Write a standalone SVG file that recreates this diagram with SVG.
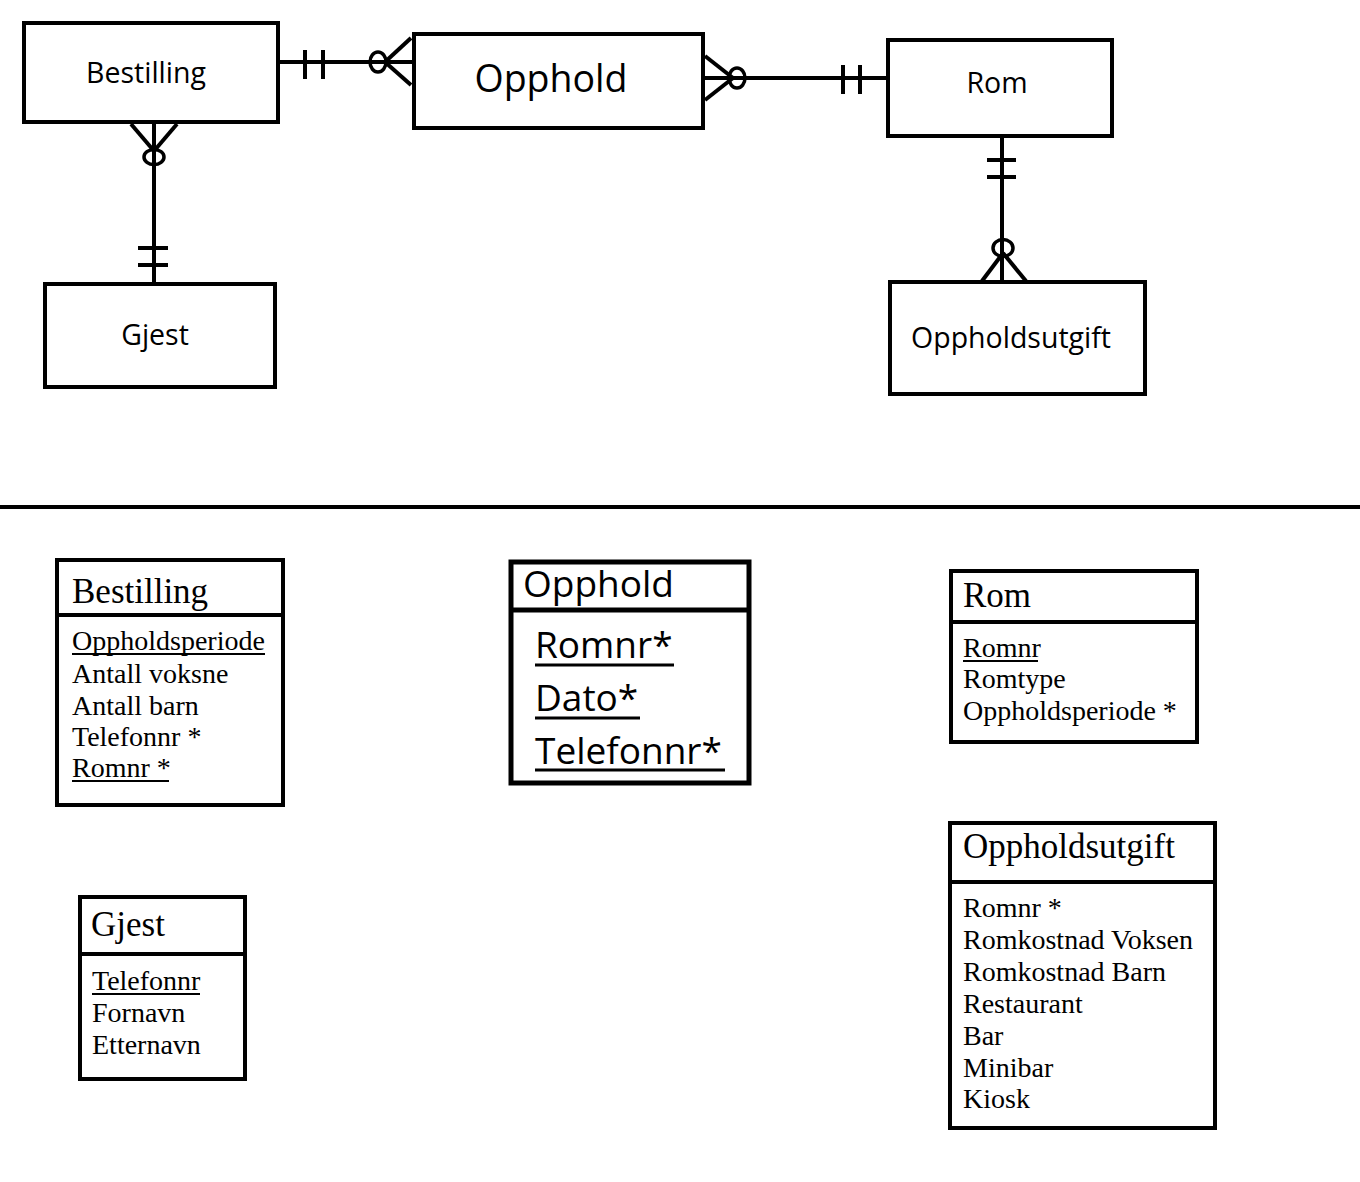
<svg xmlns="http://www.w3.org/2000/svg" width="1360" height="1182" viewBox="0 0 1360 1182">
<style>
.box{fill:#fff;stroke:#000;stroke-width:4}
.ln{stroke:#000;stroke-width:4;fill:none}
.ci{stroke:#000;stroke-width:3.5;fill:none}
.sans{font-family:"Open Sans","Noto Sans","DejaVu Sans",sans-serif;fill:#000}
.t1{font-size:28.5px;text-anchor:middle}
.t2{font-size:37.5px;text-anchor:middle}
.serif{font-family:"Liberation Serif","Times New Roman",serif;fill:#000}
.th{font-size:35px}
.at{font-size:28px}
.op{font-size:37px}
.ul{stroke:#000;stroke-width:2}
.ul3{stroke:#000;stroke-width:3}
</style>
<rect width="1360" height="1182" fill="#fff"/>

<g id="connectors">
  <!-- Bestilling - Opphold -->
  <line class="ln" x1="278" y1="62" x2="412" y2="62"/>
  <line class="ln" x1="305" y1="50" x2="305" y2="79"/>
  <line class="ln" x1="323" y1="50" x2="323" y2="79"/>
  <ellipse class="ci" cx="378" cy="62" rx="8" ry="10"/>
  <line class="ln" x1="385" y1="62" x2="411" y2="38"/>
  <line class="ln" x1="385" y1="62" x2="411" y2="85"/>
  <!-- Opphold - Rom -->
  <line class="ln" x1="703" y1="78" x2="888" y2="78"/>
  <line class="ln" x1="705" y1="56" x2="733" y2="78"/>
  <line class="ln" x1="705" y1="100" x2="733" y2="78"/>
  <ellipse class="ci" cx="737" cy="78" rx="8" ry="10"/>
  <line class="ln" x1="843" y1="65" x2="843" y2="94"/>
  <line class="ln" x1="860" y1="65" x2="860" y2="94"/>
  <!-- Bestilling - Gjest -->
  <line class="ln" x1="154" y1="122" x2="154" y2="284"/>
  <line class="ln" x1="131" y1="124" x2="154" y2="151"/>
  <line class="ln" x1="177" y1="124" x2="154" y2="151"/>
  <ellipse class="ci" cx="154" cy="157" rx="10" ry="7.5"/>
  <line class="ln" x1="138" y1="248" x2="168" y2="248"/>
  <line class="ln" x1="138" y1="265" x2="168" y2="265"/>
  <!-- Rom - Oppholdsutgift -->
  <line class="ln" x1="1002" y1="136" x2="1002" y2="282"/>
  <line class="ln" x1="987" y1="160" x2="1016" y2="160"/>
  <line class="ln" x1="987" y1="177" x2="1016" y2="177"/>
  <ellipse class="ci" cx="1003" cy="248" rx="10" ry="8.5"/>
  <line class="ln" x1="982" y1="281" x2="1003" y2="253"/>
  <line class="ln" x1="1026" y1="281" x2="1003" y2="253"/>
</g>

<g id="er-bestilling">
  <rect class="box" x="24" y="23" width="254" height="99"/>
  <text class="sans t1" x="146" y="83">Bestilling</text>
</g>
<g id="er-opphold">
  <rect class="box" x="414" y="34" width="289" height="94"/>
  <text class="sans t2" x="551" y="92">Opphold</text>
</g>
<g id="er-rom">
  <rect class="box" x="888" y="40" width="224" height="96"/>
  <text class="sans t1" x="997" y="93">Rom</text>
</g>
<g id="er-gjest">
  <rect class="box" x="45" y="284" width="230" height="103"/>
  <text class="sans t1" x="155" y="345">Gjest</text>
</g>
<g id="er-oppholdsutgift">
  <rect class="box" x="890" y="282" width="255" height="112"/>
  <text class="sans t1" x="1011" y="348">Oppholdsutgift</text>
</g>

<line id="separator" x1="0" y1="507" x2="1360" y2="507" stroke="#000" stroke-width="4"/>

<g id="tbl-bestilling">
  <rect class="box" x="57" y="560" width="226" height="245"/>
  <line class="ln" x1="57" y1="615" x2="283" y2="615"/>
  <text class="serif th" x="72" y="603">Bestilling</text>
  <text class="serif at" x="72" y="650">Oppholdsperiode</text>
  <line class="ul" x1="72" y1="654" x2="265" y2="654"/>
  <text class="serif at" x="72" y="683">Antall voksne</text>
  <text class="serif at" x="72" y="715">Antall barn</text>
  <text class="serif at" x="72" y="746">Telefonnr *</text>
  <text class="serif at" x="72" y="777">Romnr *</text>
  <line class="ul" x1="72" y1="781" x2="169" y2="781"/>
</g>

<g id="tbl-opphold">
  <rect class="box" x="511" y="562" width="238" height="221" style="stroke-width:5"/>
  <line class="ln" x1="511" y1="610" x2="749" y2="610" style="stroke-width:5"/>
  <text class="sans op" x="523" y="597">Opphold</text>
  <text class="sans op" x="535" y="658">Romnr*</text>
  <line class="ul3" x1="535" y1="665" x2="674" y2="665"/>
  <text class="sans op" x="535" y="711">Dato*</text>
  <line class="ul3" x1="535" y1="718" x2="640" y2="718"/>
  <text class="sans op" x="535" y="764">Telefonnr*</text>
  <line class="ul3" x1="535" y1="770" x2="725" y2="770"/>
</g>

<g id="tbl-rom">
  <rect class="box" x="951" y="571" width="246" height="171"/>
  <line class="ln" x1="951" y1="622" x2="1197" y2="622"/>
  <text class="serif th" x="963" y="607">Rom</text>
  <text class="serif at" x="963" y="657">Romnr</text>
  <line class="ul" x1="963" y1="661" x2="1038" y2="661"/>
  <text class="serif at" x="963" y="688">Romtype</text>
  <text class="serif at" x="963" y="720">Oppholdsperiode *</text>
</g>

<g id="tbl-oppholdsutgift">
  <rect class="box" x="950" y="823" width="265" height="305"/>
  <line class="ln" x1="950" y1="882" x2="1215" y2="882"/>
  <text class="serif th" x="963" y="858">Oppholdsutgift</text>
  <text class="serif at" x="963" y="917">Romnr *</text>
  <text class="serif at" x="963" y="949">Romkostnad Voksen</text>
  <text class="serif at" x="963" y="981">Romkostnad Barn</text>
  <text class="serif at" x="963" y="1013">Restaurant</text>
  <text class="serif at" x="963" y="1045">Bar</text>
  <text class="serif at" x="963" y="1077">Minibar</text>
  <text class="serif at" x="963" y="1108">Kiosk</text>
</g>

<g id="tbl-gjest">
  <rect class="box" x="80" y="897" width="165" height="182"/>
  <line class="ln" x1="80" y1="954" x2="245" y2="954"/>
  <text class="serif th" x="91" y="936">Gjest</text>
  <text class="serif at" x="92" y="990">Telefonnr</text>
  <line class="ul" x1="92" y1="994" x2="200" y2="994"/>
  <text class="serif at" x="92" y="1022">Fornavn</text>
  <text class="serif at" x="92" y="1054">Etternavn</text>
</g>
</svg>
